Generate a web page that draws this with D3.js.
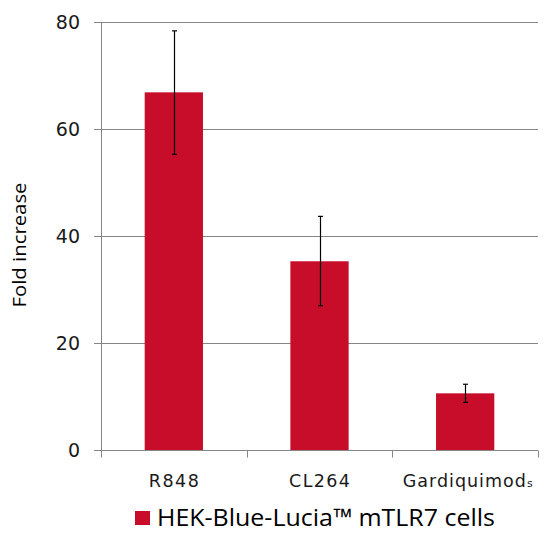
<!DOCTYPE html>
<html><head><meta charset="utf-8">
<script src="https://cdn.jsdelivr.net/npm/d3@7"></script>
<style>html,body{margin:0;padding:0;background:#fff}svg{display:block}</style>
</head><body>
<svg id="c" width="557" height="536"></svg>
<script>
const categories = ["R848", "CL264", "Gardiquimod"];
const values = [66.9, 35.3, 10.6];
const errHigh = [78.4, 43.7, 12.3];
const errLow = [55.3, 27.0, 8.9];
const yTicks = [0, 20, 40, 60, 80];
const seriesName = "HEK-Blue-Lucia™ mTLR7 cells";
const yTitle = "Fold increase";

const svg = d3.select("#c");
const barColor = "#C70D2A";
const gridColor = "#868686";
const tickFont = "'DejaVu Sans', sans-serif";
const textFont = "'Open Sans', sans-serif";

const x = d3.scaleBand().domain(categories).range([101, 538]).paddingInner(0.6).paddingOuter(0.3);
const y = d3.scaleLinear().domain([0, 80]).range([450, 22.3]);

// gridlines
svg.append("g").selectAll("line").data(yTicks.filter(t => t > 0)).join("line")
  .attr("x1", 101).attr("x2", 538)
  .attr("y1", d => Math.round(y(d)) + 0.5).attr("y2", d => Math.round(y(d)) + 0.5)
  .attr("stroke", gridColor).attr("stroke-width", 1);

// bars
svg.append("g").selectAll("rect").data(categories).join("rect")
  .attr("x", d => x(d)).attr("width", x.bandwidth())
  .attr("y", (d, i) => y(values[i])).attr("height", (d, i) => y(0) - y(values[i]))
  .attr("fill", barColor);

// y axis
const yAxis = svg.append("g");
yAxis.append("line").attr("x1", 101.5).attr("x2", 101.5).attr("y1", y(80)).attr("y2", y(0))
  .attr("stroke", gridColor);
yAxis.selectAll("line.t").data(yTicks).join("line").attr("class", "t")
  .attr("x1", 94).attr("x2", 101)
  .attr("y1", d => Math.round(y(d)) + 0.5).attr("y2", d => Math.round(y(d)) + 0.5)
  .attr("stroke", gridColor);
yAxis.selectAll("text").data(yTicks).join("text")
  .attr("x", 80).attr("y", d => y(d)).attr("dy", "0.35em")
  .attr("text-anchor", "end").attr("font-family", tickFont).attr("font-size", 19)
  .attr("fill", "#1a1a1a").text(d => d);

// x axis
const xAxis = svg.append("g");
const y0 = Math.round(y(0)) + 0.5;
xAxis.append("line").attr("x1", 101).attr("x2", 538).attr("y1", y0).attr("y2", y0).attr("stroke", gridColor);
const bounds = categories.map(c => x(c) - x.step() * x.paddingInner() / 2);
bounds[0] = 101; bounds.push(538);
xAxis.selectAll("line.t").data(bounds).join("line").attr("class", "t")
  .attr("x1", d => Math.round(d) + 0.5).attr("x2", d => Math.round(d) + 0.5)
  .attr("y1", y0).attr("y2", y0 + 7).attr("stroke", gridColor);
const xLabWidths = [50, 61, 130];
xAxis.selectAll("text").data(categories).join("text")
  .attr("x", d => x(d) + x.bandwidth() / 2 + (d === "Gardiquimod" ? 2.5 : 0)).attr("y", 486.5)
  .attr("text-anchor", "middle").attr("font-family", tickFont).attr("font-size", 17.5)
  .attr("fill", "#1a1a1a")
  .attr("textLength", (d, i) => xLabWidths[i]).attr("lengthAdjust", "spacing")
  .each(function(d, i) {
    const t = d3.select(this);
    t.append("tspan").text(d);
    if (d === "Gardiquimod") t.append("tspan").attr("font-size", 11).text("s");
  });

// error bars
const eb = svg.append("g").attr("stroke", "#000").attr("stroke-width", 1.2);
categories.forEach((c, i) => {
  const cx = Math.round(x(c) + x.bandwidth() / 2) + 0.5;
  eb.append("line").attr("x1", cx).attr("x2", cx).attr("y1", y(errHigh[i])).attr("y2", y(errLow[i]));
  eb.append("line").attr("x1", cx - 2.5).attr("x2", cx + 2.5).attr("y1", y(errHigh[i])).attr("y2", y(errHigh[i]));
  eb.append("line").attr("x1", cx - 2.5).attr("x2", cx + 2.5).attr("y1", y(errLow[i])).attr("y2", y(errLow[i]));
});

// y title
svg.append("text").attr("transform", "translate(26,245) rotate(-90)")
  .attr("text-anchor", "middle").attr("font-family", textFont).attr("font-size", 18)
  .attr("fill", "#000").attr("textLength", 125).attr("lengthAdjust", "spacingAndGlyphs").text(yTitle);

// legend
svg.append("rect").attr("x", 135).attr("y", 511).attr("width", 15).attr("height", 14).attr("fill", barColor);
svg.append("text").attr("x", 157).attr("y", 525.5).attr("font-family", textFont).attr("font-size", 24)
  .attr("fill", "#000").attr("textLength", 338).attr("lengthAdjust", "spacingAndGlyphs").text(seriesName);
</script>
</body></html>
